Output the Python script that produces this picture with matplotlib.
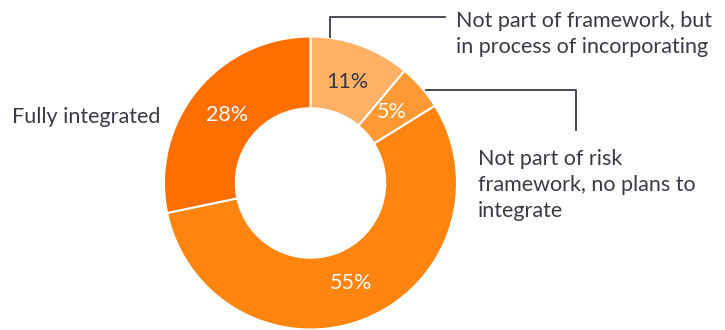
import matplotlib.pyplot as plt

# share of respondents by integration status
labels = ["Not part of framework, but\nin process of incorporating",
          "Not part of risk\nframework, no plans to\nintegrate",
          "", "Fully integrated"]
values = [11, 5, 55, 28]
colors = ["#FFB266", "#FF9933", "#FF8410", "#FF6E00"]
pct_colors = ["#3A3A44", "white", "white", "white"]

plt.rcParams['font.family'] = ['Lato', 'DejaVu Sans']
text_col = "#3A3A44"
fs = 15.5

fig = plt.figure(figsize=(7.25, 3.3), dpi=100)
ax = fig.add_axes([0, 0, 1, 1])

total = sum(values)
wedges, _, pcts = ax.pie(values, colors=colors, startangle=90, counterclock=False,
                         center=(310.5, 147), radius=146.5, frame=True,
                         autopct=lambda p: f"{round(p * total / 100)}%",
                         pctdistance=0.735,
                         wedgeprops=dict(width=146.5 * 0.49, edgecolor='white', linewidth=1.5))
ax.set_xlim(0, 725)
ax.set_ylim(0, 330)
ax.set_aspect('equal')
ax.axis('off')
for t, c in zip(pcts, pct_colors):
    t.set_color(c)
    t.set_fontsize(fs)

# leader lines
ax.plot([330.5, 330.5, 445], [293, 313, 313], color="#3C3C46", lw=1.3)
ax.plot([426, 576, 576], [240, 240, 200], color="#3C3C46", lw=1.3)

ax.text(456, 296, labels[0], fontsize=fs, color=text_col, va='center', ha='left',
        linespacing=1.35)
ax.text(478, 145, labels[1], fontsize=fs, color=text_col, va='center', ha='left',
        linespacing=1.35)
ax.text(12, 213, labels[3], fontsize=fs, color=text_col, va='center', ha='left')

fig.savefig("out.png", dpi=100)
